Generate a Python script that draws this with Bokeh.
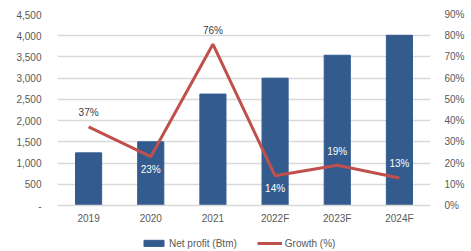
from bokeh.plotting import figure
from bokeh.models import (ColumnDataSource, Range1d, LinearAxis, FixedTicker,
                          CustomJSTickFormatter, Legend, LegendItem)
from bokeh.layouts import column
from bokeh.core.properties import value
from bokeh.embed import file_html
from bokeh.resources import INLINE

years = ["2019", "2020", "2021", "2022F", "2023F", "2024F"]
net_profit = [1240, 1500, 2625, 3000, 3540, 4010]
growth = [37, 23, 76, 14, 19, 13]
left_ticks = [0, 500, 1000, 1500, 2000, 2500, 3000, 3500, 4000, 4500]
right_ticks = [0, 10, 20, 30, 40, 50, 60, 70, 80, 90]

FONT = "Liberation Sans"
GRAY = "#595959"
BLUE = "#335b8e"
RED = "#c0504d"
NAN = float("nan")

src = ColumnDataSource(dict(x=years, profit=net_profit, growth=growth))

p = figure(x_range=years, y_range=Range1d(0, 4500), width=471, height=235,
           output_backend="svg", toolbar_location=None,
           min_border_left=57, min_border_right=41, min_border_top=14, min_border_bottom=30)
p.extra_y_ranges = {"g": Range1d(0, 90)}
p.outline_line_color = None

bars = p.vbar(x="x", top="profit", width=0.42, source=src, fill_color=BLUE,
              line_color=BLUE)
line = p.line(x="x", y="growth", source=src, y_range_name="g", line_color=RED,
              line_width=3)

# data labels
above = [0, 2, 4, 5]
below = [1, 3]
dark = {0, 2}
for idxs, off in ((above, -14), (below, 13)):
    s = ColumnDataSource(dict(
        x=[years[i] for i in idxs], y=[growth[i] for i in idxs],
        t=[f"{growth[i]}%" for i in idxs],
        c=["#404040" if i in dark else "white" for i in idxs]))
    p.text(x="x", y="y", text="t", source=s, y_range_name="g", text_color="c",
           text_align="center", text_baseline="middle", y_offset=off,
           text_font=value(FONT), text_font_size="10px")

# axes
p.yaxis.ticker = FixedTicker(ticks=left_ticks)
p.yaxis.formatter = CustomJSTickFormatter(code="""
if (tick == 0) return '-';
return tick.toString().replace(/\\B(?=(\\d{3})+(?!\\d))/g, ',');
""")
ry = LinearAxis(y_range_name="g", ticker=FixedTicker(ticks=right_ticks),
                formatter=CustomJSTickFormatter(code="return tick + '%';"))
p.add_layout(ry, "right")
for ax, so in ((p.yaxis[0], 10), (ry, 8)):
    ax.axis_line_color = None
    ax.major_tick_line_color = None
    ax.minor_tick_line_color = None
    ax.major_label_text_color = GRAY
    ax.major_label_text_font = FONT
    ax.major_label_text_font_size = "10px"
    ax.major_label_standoff = so

p.xaxis.axis_line_color = "#d9d9d9"
p.xaxis.axis_line_width = 1.5
p.xaxis.major_tick_line_color = None
p.xaxis.minor_tick_line_color = None
p.xaxis.major_tick_out = 0
p.xaxis.major_label_text_color = GRAY
p.xaxis.major_label_text_font = FONT
p.xaxis.major_label_text_font_size = "10px"
p.xaxis.major_label_standoff = 7

p.xgrid.grid_line_color = None
p.ygrid.grid_line_color = "#d9d9d9"
p.ygrid.grid_line_width = 1.5
p.ygrid.ticker = FixedTicker(ticks=left_ticks)

# legend strip (frame is aligned with the chart above: 57..430)
lf = figure(width=471, height=16, output_backend="svg", toolbar_location=None,
            x_range=Range1d(0, 1), y_range=Range1d(0, 1),
            x_axis_location=None, y_axis_location=None,
            min_border_left=0, min_border_right=0, min_border_top=0, min_border_bottom=0)
lf.outline_line_color = None
lf.grid.grid_line_color = None
lb = lf.vbar(x=[NAN], top=[NAN], width=0.42, fill_color=BLUE, line_color=BLUE)
ll = lf.line(x=[NAN, NAN], y=[NAN, NAN], line_color=RED, line_width=3)
legend = Legend(items=[LegendItem(label="Net profit (Btm)", renderers=[lb]),
                       LegendItem(label="Growth (%)", renderers=[ll])],
                orientation="horizontal", location=(84, 2),
                label_text_font=FONT, label_text_font_size="10px",
                label_text_color=GRAY, glyph_width=25, glyph_height=8,
                label_height=12, label_standoff=3, spacing=20, padding=0, margin=0,
                border_line_color=None, background_fill_alpha=0)
lf.add_layout(legend, "center")

layout = column(p, lf, spacing=0)
open("out.html", "w").write(file_html(layout, INLINE))
